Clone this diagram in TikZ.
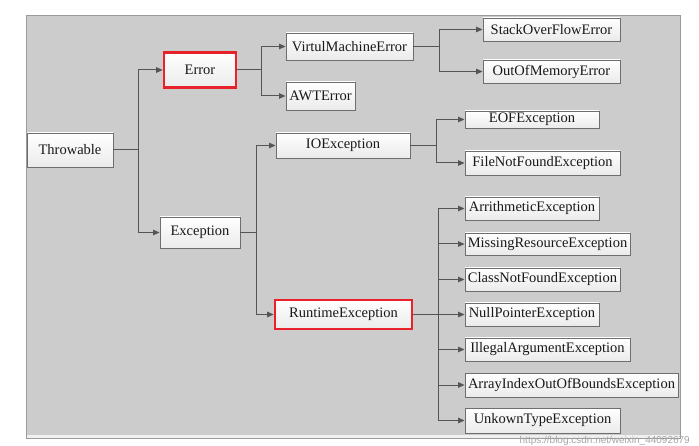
\documentclass[tikz,border=0pt]{standalone}
\usepackage{fontspec}
\setmainfont{Liberation Serif}
\newfontfamily\wmfont{Liberation Sans}
\usetikzlibrary{arrows.meta}
\definecolor{panel}{HTML}{CCCCCC}
\definecolor{panelborder}{HTML}{9A9A9A}
\definecolor{boxborder}{HTML}{6E6E6E}
\definecolor{linecol}{HTML}{555555}
\definecolor{hired}{HTML}{E8212B}
\tikzset{
  box/.style={draw=boxborder, line width=0.9pt, top color=white, bottom color=black!8,
    inner sep=0pt, font=\fontsize{14.5}{16}\selectfont, text=black!90},
  redbox/.style={box, draw=hired, line width=2.6pt},
  conn/.style={draw=linecol, line width=1pt, -{Triangle[length=6.5pt,width=5.5pt]}}
}
\begin{document}
\begin{tikzpicture}[x=1pt,y=-1pt]
\useasboundingbox (0,0) rectangle (699,446);
\fill[white] (0,0) rectangle (699,446);
% panel
\fill[panel] (26.5,16) rectangle (680,435);
\fill[black!6] (26.5,435) rectangle (680,438);
\draw[panelborder, line width=1pt] (26.5,16) rectangle (680,438);

% nodes
\node[box, minimum width=86pt, minimum height=34pt] (thr) at (70,150) {Throwable};
\node[redbox, minimum width=72pt, minimum height=35pt] (err) at (200,70) {Error};
\node[box, minimum width=127pt, minimum height=27pt] (vme) at (349.5,46.5) {VirtulMachineError};
\node[box, minimum width=69pt, minimum height=28pt] (awt) at (320.5,96) {AWTError};
\node[box, minimum width=137pt, minimum height=23pt] (sof) at (551.5,29.5) {StackOverFlowError};
\node[box, minimum width=137pt, minimum height=23pt] (oom) at (551.5,71.5) {OutOfMemoryError};
\node[box, minimum width=134pt, minimum height=25pt] (ioe) at (343,145.5) {IOException};
\node[box, minimum width=134pt, minimum height=17pt] (eof) at (532,119.5) {EOFException};
\node[box, minimum width=155pt, minimum height=24pt] (fnf) at (542.5,163) {FileNotFoundException};
\node[box, minimum width=80pt, minimum height=31pt] (exc) at (200,232.5) {Exception};
\node[redbox, minimum width=137pt, minimum height=29pt] (rte) at (343.5,314.5) {RuntimeException};
\node[box, minimum width=134pt, minimum height=23pt] (ari) at (532,208.5) {ArrithmeticException};
\node[box, minimum width=165pt, minimum height=22pt] (mis) at (547.5,244) {MissingResourceException};
\node[box, minimum width=155pt, minimum height=23pt] (cnf) at (542.5,279.5) {ClassNotFoundException};
\node[box, minimum width=134pt, minimum height=23pt] (npe) at (532,314.5) {NullPointerException};
\node[box, minimum width=165pt, minimum height=23pt] (ill) at (547.5,349.5) {IllegalArgumentException};
\node[box, minimum width=213pt, minimum height=24pt] (aio) at (571.5,385) {ArrayIndexOutOfBoundsException};
\node[box, minimum width=155pt, minimum height=25pt] (unk) at (542.5,420.5) {UnkownTypeException};

% connectors
\draw[conn] (thr.east) -- ++(25,0) |- (err.west);
\draw[conn] (thr.east) -- ++(25,0) |- (exc.west);
\draw[conn] (err.east) -- ++(24,0) |- (vme.west);
\draw[conn] (err.east) -- ++(24,0) |- (awt.west);
\draw[conn] (vme.east) -- ++(26,0) |- (sof.west);
\draw[conn] (vme.east) -- ++(26,0) |- (oom.west);
\draw[conn] (exc.east) -- ++(16,0) |- (ioe.west);
\draw[conn] (exc.east) -- ++(16,0) |- (rte.west);
\draw[conn] (ioe.east) -- ++(26,0) |- (eof.west);
\draw[conn] (ioe.east) -- ++(26,0) |- (fnf.west);
\foreach \c in {ari,mis,cnf,npe,ill,aio,unk}
  \draw[conn] (rte.east) -- ++(25,0) |- (\c.west);

% watermark
\node[font=\wmfont\fontsize{10}{11}\selectfont, text=black!35, anchor=east, inner sep=0pt] (wm) at (690,441) {https://blog.csdn.net/weixin\_44092679};
\end{tikzpicture}
\end{document}
